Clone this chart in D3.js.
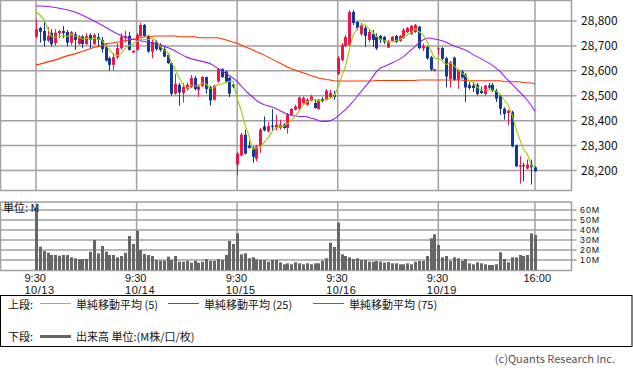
<!DOCTYPE html>
<html><head><meta charset="utf-8">
<script src="https://cdn.jsdelivr.net/npm/d3@7"></script>
<style>
body{margin:0;background:#fff;}
svg{display:block;font-family:"Noto Sans CJK JP","Noto Sans",sans-serif;}
</style>
</head><body>
<svg id="chart" width="633" height="379"></svg>
<script>
// ---------- data (15-minute bars, 10/13 - 10/19) ----------
const tickIndex = [0, 26, 52, 78, 104, 129];
const tickTime  = ["9:30", "9:30", "9:30", "9:30", "9:30", "16:00"];
const tickDate  = ["10/13", "10/14", "10/15", "10/16", "10/19", ""];
const priceTicks = [28200, 28300, 28400, 28500, 28600, 28700, 28800];
const priceTickLabels = ["28,200", "28,300", "28,400", "28,500", "28,600", "28,700", "28,800"];
const volumeTicks = [10, 20, 30, 40, 50, 60];
const volumeTickLabels = ["10M", "20M", "30M", "40M", "50M", "60M"];

const open = [
28737,28772,28760,28721,28753,28711,28751,28760,28756,28713,28747,28708,28737,28708,28744,28708,28735,28724,28697,28651,28624,28655,28691,28731,28740,28673,
28684,28740,28784,28740,28677,28717,28704,28687,28664,28631,28508,28544,28511,28527,28535,28571,28524,28540,28575,28535,28484,28557,28607,28597,28571,28545,
28224,28260,28344,28300,28291,28247,28297,28377,28357,28380,28371,28371,28384,28371,28424,28444,28448,28471,28464,28481,28471,28447,28487,28484,28495,28504,
28587,28643,28700,28704,28836,28796,28748,28772,28724,28748,28737,28740,28736,28693,28720,28740,28720,28732,28756,28748,28756,28777,28690,28695,28655,28600,
28686,28691,28651,28568,28653,28564,28597,28584,28544,28541,28544,28520,28507,28541,28544,28520,28501,28448,28431,28435,28301,28215,28221,28208,28224,28213];
const high = [
28807,28777,28804,28775,28767,28767,28764,28780,28764,28760,28757,28744,28744,28751,28751,28751,28751,28735,28711,28657,28671,28711,28751,28761,28757,28681,
28751,28793,28788,28744,28724,28724,28711,28697,28671,28637,28588,28551,28551,28553,28584,28580,28544,28580,28577,28540,28544,28611,28611,28601,28575,28550,
28273,28351,28364,28317,28297,28303,28371,28417,28393,28447,28424,28404,28391,28431,28451,28464,28497,28497,28491,28504,28487,28487,28495,28527,28524,28520,
28659,28712,28744,28844,28844,28800,28792,28784,28764,28764,28750,28744,28740,28724,28740,28744,28744,28772,28776,28784,28788,28781,28710,28700,28660,28608,
28697,28697,28657,28640,28657,28608,28604,28591,28555,28555,28551,28537,28544,28551,28551,28528,28507,28453,28444,28440,28304,28257,28231,28244,28244,28217];
const low = [
28731,28713,28697,28715,28697,28700,28731,28731,28697,28704,28684,28704,28691,28704,28687,28704,28697,28673,28637,28601,28601,28647,28684,28713,28681,28673,
28681,28737,28737,28673,28651,28681,28677,28655,28628,28500,28504,28460,28473,28521,28531,28521,28495,28535,28508,28460,28481,28553,28571,28553,28495,28530,
28180,28257,28264,28287,28231,28237,28271,28357,28353,28361,28361,28364,28367,28348,28420,28441,28444,28468,28460,28477,28448,28444,28473,28481,28491,28484,
28583,28639,28696,28700,28784,28764,28740,28696,28716,28696,28684,28712,28708,28692,28716,28712,28716,28728,28752,28744,28752,28686,28680,28645,28600,28598,
28664,28644,28533,28533,28560,28528,28568,28475,28524,28515,28501,28507,28501,28528,28515,28475,28424,28404,28381,28293,28213,28147,28157,28204,28144,28195];
const close = [
28767,28757,28721,28740,28707,28753,28760,28751,28713,28755,28724,28737,28708,28740,28724,28744,28724,28687,28641,28624,28655,28691,28737,28740,28684,28681,
28744,28784,28740,28677,28717,28687,28684,28657,28631,28508,28547,28513,28535,28544,28571,28527,28537,28575,28527,28481,28540,28608,28575,28557,28508,28537,
28268,28344,28268,28291,28255,28297,28364,28361,28377,28375,28384,28384,28371,28424,28447,28457,28493,28491,28484,28497,28451,28484,28477,28520,28511,28495,
28651,28704,28736,28836,28792,28772,28784,28740,28756,28724,28690,28724,28716,28717,28736,28716,28740,28764,28772,28780,28784,28691,28700,28650,28605,28607,
28690,28648,28577,28635,28564,28604,28573,28533,28531,28531,28507,28511,28541,28533,28520,28488,28448,28427,28440,28297,28217,28221,28217,28224,28213,28197];
const volume = [
61.7,23.3,19,17.3,15,15,14.3,15,15,12.7,11.7,10.7,11,11,18.3,30,16.7,24,18.3,15,15,12.7,14,17.3,34,26,
39.3,20,16,15,14,10,9.3,9.3,13.3,10,14,8.3,8.3,9.3,7.3,9.3,7.3,8.3,11,9,9,11,10,15,29,26,
36.7,15.7,16.7,11.7,12.7,10.7,10,10,8.3,10,10,7.7,5.7,6.7,5.7,7.7,6.7,5.7,6.7,5.7,6.7,6.7,9,11.7,27.3,23,
47.3,15.7,14,12.7,11,11.7,10,10,8.3,8.3,9,8.5,7.5,8,6.7,6.7,5.7,5.7,6.7,5.7,8.3,9,9,14,31.7,35.7,
25,12.7,14,9,12.7,11.7,9,11,6.7,5.7,7.7,6.7,5.7,5,5,5.7,17.7,11,7.7,12.7,12.7,15,14,15,36.7,35];
const ma5 = [
28837,28824,28807,28771,28738,28736,28736,28742,28737,28746,28741,28736,28727,28733,28727,28731,28728,28724,28704,28684,28666,28660,28670,28689,28701,28707,
28717,28727,28727,28725,28732,28721,28701,28684,28675,28633,28605,28571,28547,28529,28542,28538,28543,28551,28547,28529,28532,28546,28546,28552,28558,28557,
28489,28443,28385,28342,28285,28291,28295,28314,28331,28355,28372,28376,28378,28388,28402,28417,28438,28462,28474,28484,28483,28481,28479,28486,28489,28497,
28531,28576,28619,28684,28744,28768,28784,28785,28769,28755,28739,28727,28722,28714,28717,28722,28725,28735,28746,28754,28768,28758,28745,28721,28686,28651,
28650,28640,28625,28631,28623,28606,28591,28582,28561,28554,28535,28523,28524,28525,28522,28519,28506,28483,28465,28428,28374,28328,28286,28267,28221,28212];
const ma25 = [
28860,28860,28859,28858,28856,28854,28851,28848,28845,28841,28836,28830,28823,28816,28808,28800,28792,28784,28775,28766,28757,28749,28742,28736,28731,28727,
28724,28721,28718,28715,28712,28709,28705,28700,28694,28688,28680,28671,28662,28655,28649,28645,28641,28638,28634,28629,28620,28610,28600,28590,28580,28570,
28557,28540,28524,28508,28495,28481,28471,28464,28460,28455,28449,28441,28433,28427,28421,28419,28417,28417,28416,28411,28407,28401,28397,28397,28399,28407,
28417,28431,28444,28460,28477,28497,28516,28535,28553,28575,28597,28611,28617,28624,28631,28639,28647,28657,28671,28684,28697,28713,28724,28731,28731,28728,
28725,28721,28715,28708,28700,28695,28690,28684,28676,28665,28657,28649,28640,28632,28622,28610,28597,28580,28563,28548,28532,28516,28500,28483,28462,28438];
const ma75 = [
28624,28627,28631,28636,28640,28644,28649,28655,28660,28664,28668,28673,28679,28684,28689,28695,28697,28701,28707,28711,28713,28716,28717,28721,28724,28727,
28729,28733,28736,28737,28739,28740,28740,28740,28740,28740,28740,28737,28737,28737,28737,28737,28733,28733,28733,28733,28733,28733,28729,28725,28720,28715,
28711,28704,28697,28691,28684,28677,28671,28663,28655,28647,28639,28631,28623,28615,28608,28603,28597,28592,28587,28581,28576,28571,28568,28565,28563,28560,
28559,28559,28559,28559,28559,28559,28559,28559,28559,28559,28561,28561,28561,28561,28561,28561,28561,28561,28561,28561,28561,28563,28563,28563,28563,28563,
28563,28563,28563,28563,28563,28563,28563,28560,28560,28560,28560,28560,28560,28560,28560,28560,28560,28557,28556,28556,28556,28556,28553,28552,28551,28548];

// ---------- layout ----------
const svg = d3.select("#chart");
const panelLeft = 0.5, panelRight = 571.5;
const mainTop = 0.5, mainBottom = 190.5;
const volTop = 202, volBottom = 270.5;
const gridColor = "#a0a0a0";
const upColor = "#f0144b", downColor = "#10399b";
const latin = "'Liberation Sans', Arial, sans-serif";

const x = d3.scaleLinear().domain([0, 129]).range([36, 535]);
const y = d3.scaleLinear().domain([28200, 28800]).range([170.5, 21]);
const yv = d3.scaleLinear().domain([0, 60]).range([270, 210]);

svg.append("rect").attr("width", 633).attr("height", 379).attr("fill", "#fff");

// ---------- main panel grid ----------
const gMain = svg.append("g");
gMain.selectAll("line.h").data(priceTicks).join("line")
  .attr("x1", panelLeft).attr("x2", panelRight + 5)
  .attr("y1", d => y(d)).attr("y2", d => y(d))
  .attr("stroke", gridColor).attr("stroke-width", 1.5);
gMain.selectAll("line.v").data(tickIndex).join("line")
  .attr("x1", d => x(d)).attr("x2", d => x(d))
  .attr("y1", mainTop).attr("y2", mainBottom)
  .attr("stroke", gridColor).attr("stroke-width", 1.5);
gMain.append("rect").attr("x", panelLeft).attr("y", mainTop)
  .attr("width", panelRight - panelLeft).attr("height", mainBottom - mainTop)
  .attr("fill", "none").attr("stroke", gridColor).attr("stroke-width", 1.5);

gMain.selectAll("text.p").data(priceTicks).join("text")
  .attr("x", 581).attr("y", d => y(d)).attr("dy", "0.36em")
  .attr("font-size", 12).attr("fill", "#111")
  .text((d, i) => priceTickLabels[i]);

// ---------- candles ----------
const idx = d3.range(close.length);
const gC = svg.append("g");
gC.selectAll("line.w").data(idx).join("line")
  .attr("x1", i => Math.round(x(i)) + 0.5).attr("x2", i => Math.round(x(i)) + 0.5)
  .attr("y1", i => y(high[i])).attr("y2", i => y(low[i]))
  .attr("stroke", i => close[i] >= open[i] ? upColor : downColor).attr("stroke-width", 1);
gC.selectAll("rect.b").data(idx).join("rect")
  .attr("x", i => Math.round(x(i)) - 1)
  .attr("width", 3)
  .attr("y", i => y(Math.max(open[i], close[i])))
  .attr("height", i => Math.max(1, Math.abs(y(open[i]) - y(close[i]))))
  .attr("fill", i => close[i] >= open[i] ? upColor : downColor);

// ---------- moving averages ----------
const lineOf = arr => d3.line().x((d, i) => x(i)).y(d => y(d))(arr);
svg.append("path").attr("d", lineOf(ma75)).attr("fill", "none").attr("stroke", "#ff3300").attr("stroke-width", 1.1);
svg.append("path").attr("d", lineOf(ma25)).attr("fill", "none").attr("stroke", "#9a1cf5").attr("stroke-width", 1.1);
svg.append("path").attr("d", lineOf(ma5)).attr("fill", "none").attr("stroke", "#9ccc00").attr("stroke-width", 1.1);

// ---------- volume panel ----------
const gV = svg.append("g");
gV.selectAll("line.h").data(volumeTicks).join("line")
  .attr("x1", panelLeft).attr("x2", panelRight + 5)
  .attr("y1", d => yv(d)).attr("y2", d => yv(d))
  .attr("stroke", gridColor).attr("stroke-width", 1.5);
gV.selectAll("line.v").data(tickIndex).join("line")
  .attr("x1", d => x(d)).attr("x2", d => x(d))
  .attr("y1", volTop).attr("y2", volBottom)
  .attr("stroke", gridColor).attr("stroke-width", 1.5);
gV.append("rect").attr("x", panelLeft).attr("y", volTop)
  .attr("width", panelRight - panelLeft).attr("height", volBottom - volTop)
  .attr("fill", "none").attr("stroke", gridColor).attr("stroke-width", 1.5);
gV.selectAll("rect.v").data(idx).join("rect")
  .attr("x", i => Math.round(x(i)) - 1).attr("width", 3)
  .attr("y", i => yv(volume[i])).attr("height", i => yv(0) - yv(volume[i]))
  .attr("fill", "#666");
gV.selectAll("text.v").data(volumeTicks).join("text")
  .attr("x", 580).attr("y", d => yv(d)).attr("dy", "0.35em")
  .attr("font-family", latin)
  .attr("font-size", 8.8).attr("letter-spacing", 1).attr("fill", "#111")
  .text((d, i) => volumeTickLabels[i]);
svg.append("text").attr("x", 3).attr("y", 212).attr("font-size", 11).attr("fill", "#111").text("単位: M");

// ---------- time axis labels ----------
svg.selectAll("text.t").data(tickIndex).join("text")
  .attr("x", d => x(d) - 11.5).attr("y", 281.5)
  .attr("font-family", latin).attr("font-size", 11).attr("fill", "#111")
  .text((d, i) => tickTime[i]);
svg.selectAll("text.d").data(tickIndex.filter((d, i) => tickDate[i] !== "")).join("text")
  .attr("x", d => x(d) - 11.5).attr("y", 293.5)
  .attr("font-family", latin).attr("font-size", 11).attr("letter-spacing", 0.5).attr("fill", "#111")
  .text((d, i) => tickDate[i]);

// ---------- legend ----------
const lg = svg.append("g");
lg.append("rect").attr("x", 0.5).attr("y", 295.5).attr("width", 631.5).attr("height", 51)
  .attr("fill", "#fff").attr("stroke", "#000").attr("stroke-width", 1);
const legendItems = [
  {label: "単純移動平均 (5)", color: "#9ccc00", x0: 40},
  {label: "単純移動平均 (25)", color: "#9a1cf5", x0: 168},
  {label: "単純移動平均 (75)", color: "#ff3300", x0: 313}
];
lg.append("text").attr("x", 8).attr("y", 308.5).attr("font-size", 11).attr("fill", "#111").text("上段:");
legendItems.forEach(it => {
  lg.append("line").attr("x1", it.x0).attr("x2", it.x0 + 31).attr("y1", 303.5).attr("y2", 303.5)
    .attr("stroke", it.color).attr("stroke-width", 1);
  lg.append("text").attr("x", it.x0 + 36).attr("y", 308.5).attr("font-size", 11).attr("fill", "#111").text(it.label);
});
lg.append("text").attr("x", 8).attr("y", 341).attr("font-size", 11).attr("fill", "#111").text("下段:");
lg.append("line").attr("x1", 40).attr("x2", 71).attr("y1", 336.5).attr("y2", 336.5)
  .attr("stroke", "#666").attr("stroke-width", 3);
lg.append("text").attr("x", 76).attr("y", 341).attr("font-size", 11).attr("fill", "#111").text("出来高 単位:(M株/口/枚)");

svg.append("text").attr("x", 615).attr("y", 363).attr("text-anchor", "end")
  .attr("font-size", 11).attr("fill", "#555").text("(c)Quants Research Inc.");
</script>
</body></html>
